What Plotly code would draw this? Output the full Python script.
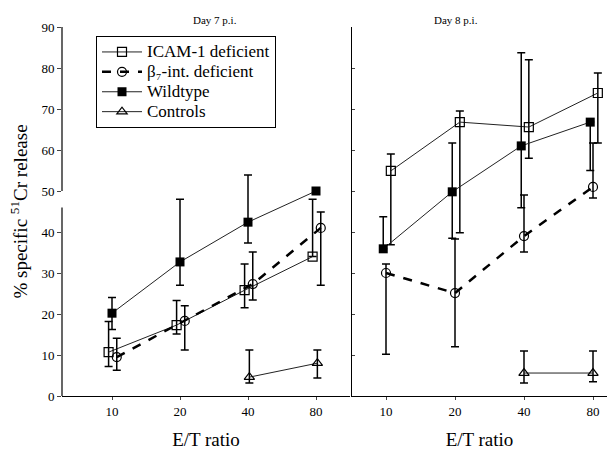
import plotly.graph_objects as go

et_ratio = ["10", "20", "40", "80"]
cat_idx = [0, 1, 2, 3]
y_ticks = [0, 10, 20, 30, 40, 50, 60, 70, 80, 90]

# Day 7 p.i.
d7_icam = [10.7, 17.3, 25.8, 34.0]
d7_icam_up = [7.5, 6.0, 6.4, 14.0]
d7_icam_dn = [3.5, 2.2, 4.3, 0.0]
d7_b7 = [9.5, 18.3, 27.3, 41.0]
d7_b7_up = [4.6, 3.7, 7.8, 3.9]
d7_b7_dn = [3.2, 7.1, 3.9, 14.0]
d7_wt = [20.2, 32.7, 42.4, 50.0]
d7_wt_up = [3.8, 15.3, 11.5, 0.0]
d7_wt_dn = [4.0, 5.7, 5.1, 0.0]
d7_ctrl = [None, None, 4.6, 8.0]
d7_ctrl_up = [0, 0, 6.6, 3.2]
d7_ctrl_dn = [0, 0, 1.4, 3.6]

# Day 8 p.i.
d8_icam = [54.9, 66.8, 65.6, 73.9]
d8_icam_up = [4.1, 2.7, 16.4, 4.9]
d8_icam_dn = [18.0, 27.0, 7.6, 12.2]
d8_b7 = [30.0, 25.1, 39.0, 51.0]
d8_b7_up = [2.2, 13.2, 10.0, 10.7]
d8_b7_dn = [19.8, 13.1, 3.9, 2.7]
d8_wt = [35.9, 49.8, 61.0, 66.8]
d8_wt_up = [7.8, 11.9, 22.7, 0.0]
d8_wt_dn = [0.0, 11.3, 15.1, 11.8]
d8_ctrl = [None, None, 5.6, 5.6]
d8_ctrl_up = [0, 0, 5.4, 5.4]
d8_ctrl_dn = [0, 0, 2.4, 2.1]

names = ["ICAM-1 deficient", "β₇-int. deficient", "Wildtype", "Controls"]

W, H = 607, 457
FONT = "Liberation Serif"
LINEC = "#222"

styles = [
    dict(marker=dict(symbol="square-open", size=9, color="black", line=dict(width=1.2)),
         line=dict(color=LINEC, width=1, dash="solid")),
    dict(marker=dict(symbol="circle-open", size=9, color="black", line=dict(width=1.2)),
         line=dict(color="black", width=2.5, dash="dash")),
    dict(marker=dict(symbol="square", size=9, color="black"),
         line=dict(color=LINEC, width=1, dash="solid")),
    dict(marker=dict(symbol="triangle-up-open", size=9, color="black", line=dict(width=1.2)),
         line=dict(color=LINEC, width=1, dash="solid")),
]

d7 = [(d7_icam, d7_icam_up, d7_icam_dn), (d7_b7, d7_b7_up, d7_b7_dn),
      (d7_wt, d7_wt_up, d7_wt_dn), (d7_ctrl, d7_ctrl_up, d7_ctrl_dn)]
d8 = [(d8_icam, d8_icam_up, d8_icam_dn), (d8_b7, d8_b7_up, d8_b7_dn),
      (d8_wt, d8_wt_up, d8_wt_dn), (d8_ctrl, d8_ctrl_up, d8_ctrl_dn)]
off7 = [-0.05, 0.07, 0.0, 0.02]
off8 = [0.07, 0.0, -0.04, 0.0]

fig = go.Figure()
for panel, (data, offs, xa, ya) in enumerate([(d7, off7, "x", "y"), (d8, off8, "x2", "y2")]):
    for i, (vals, up, dn) in enumerate(data):
        fig.add_trace(go.Scatter(
            x=[c + offs[i] for c in cat_idx], y=vals, mode="lines+markers",
            name='<span style="font-size:17px">' + names[i] + "</span>",
            showlegend=(panel == 0), connectgaps=False,
            xaxis=xa, yaxis=ya,
            error_y=dict(type="data", symmetric=False, array=up, arrayminus=dn,
                         color="black", thickness=1.5, width=4),
            **styles[i]))

ydom = [(H - 396) / H, (H - 27) / H]
tickfont = dict(family=FONT, size=13, color="black")
xtitle = dict(text="E/T ratio", font=dict(family=FONT, size=19), standoff=14)
fig.update_layout(
    width=W, height=H, margin=dict(l=0, r=0, t=0, b=0, autoexpand=False),
    paper_bgcolor="white", plot_bgcolor="white",
    font=dict(family=FONT, color="black"),
    xaxis=dict(domain=[62 / W, 350 / W], range=[-50 / 68, 238 / 68],
               tickvals=cat_idx, ticktext=et_ratio, showgrid=False, zeroline=False,
               showline=True, linecolor="black", linewidth=1.2, ticks="outside", ticklen=3,
               tickfont=tickfont, title=xtitle, automargin=False, anchor="y"),
    xaxis2=dict(domain=[352 / W, 1.0], range=[-34 / 69, 221 / 69],
                tickvals=cat_idx, ticktext=et_ratio, showgrid=False, zeroline=False,
                showline=True, linecolor="black", linewidth=1.2, ticks="outside", ticklen=3,
                tickfont=tickfont, title=xtitle, automargin=False, anchor="y2"),
    yaxis=dict(domain=ydom, range=[0, 90], tickvals=y_ticks, showgrid=False, zeroline=False,
               showline=False, ticks="outside", ticklen=4, tickfont=tickfont,
               title=dict(text="% specific <sup>51</sup>Cr release",
                          font=dict(family=FONT, size=19), standoff=8),
               automargin=False, anchor="x"),
    yaxis2=dict(domain=ydom, range=[0, 90], tickvals=y_ticks, showgrid=False, zeroline=False,
                showline=True, linecolor="black", linewidth=1.2, ticks="inside", ticklen=3,
                showticklabels=False, automargin=False, anchor="x2"),
    legend=dict(x=96 / W, y=(H - 36) / H, xanchor="left", yanchor="top",
                bordercolor="black", borderwidth=1, bgcolor="white",
                font=dict(family=FONT, size=13), tracegroupgap=0, itemwidth=40),
    shapes=[
        dict(type="line", xref="paper", yref="y", x0=62 / W, x1=62 / W, y0=0, y1=46,
             line=dict(color="black", width=1.2)),
        dict(type="line", xref="paper", yref="y", x0=62 / W, x1=62 / W, y0=50, y1=90,
             line=dict(color="black", width=1.2)),
    ],
    annotations=[
        dict(text="Day 7 p.i.", xref="paper", yref="paper", x=215 / W, y=(H - 12) / H,
             showarrow=False, font=dict(family=FONT, size=11)),
        dict(text="Day 8 p.i.", xref="paper", yref="paper", x=480 / W, y=(H - 12) / H,
             showarrow=False, font=dict(family=FONT, size=11)),
    ],
)

fig.write_html("out.html")
